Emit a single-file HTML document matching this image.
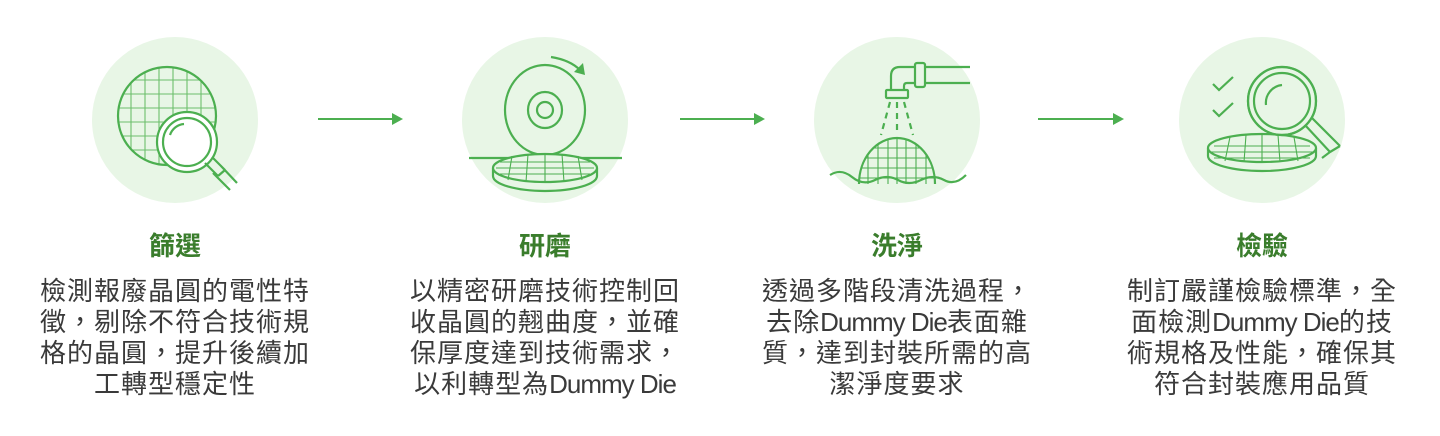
<!DOCTYPE html>
<html><head><meta charset="utf-8"><style>
body{margin:0;width:1440px;height:436px;background:#fff;overflow:hidden;position:relative;font-family:"Liberation Sans","Noto Sans CJK TC",sans-serif}
.t{position:absolute;top:226px;width:300px;text-align:center;font-size:26px;font-weight:bold;color:#3a7d2c}
.d{position:absolute;top:276px;width:320px;text-align:center;font-size:26px;line-height:31px;color:#3a3a3a;letter-spacing:1px}
.d span{letter-spacing:-1px}
svg{position:absolute;left:0;top:0}
</style></head><body>
<svg width="1440" height="220" viewBox="0 0 1440 220" fill="none" stroke="#4caf50" stroke-width="2.2">
<g stroke="none" fill="#e8f6e6">
<circle cx="175" cy="120" r="83"/><circle cx="545" cy="120" r="83"/><circle cx="897" cy="120" r="83"/><circle cx="1262" cy="120" r="83"/>
</g>
<g stroke="#4caf50" stroke-width="2">
<line x1="318" y1="119" x2="394" y2="119"/><line x1="680" y1="119" x2="756" y2="119"/><line x1="1038" y1="119" x2="1114" y2="119"/>
</g>
<g fill="#4caf50" stroke="none">
<path d="M392 113 L403 119 L392 125Z"/><path d="M754 113 L765 119 L754 125Z"/><path d="M1113 113 L1124 119 L1113 125Z"/>
</g>
<defs><clipPath id="c1"><circle cx="167" cy="116" r="49"/></clipPath></defs>
<g clip-path="url(#c1)" stroke-width="1.1" stroke="#6cbf6c">
<path d="M118 80H216M118 94H216M118 108H216M118 122H216M118 136H216M118 150H216M131 67V165M145 67V165M159 67V165M173 67V165M187 67V165M201 67V165"/>
</g>
<circle cx="167" cy="116" r="49"/>
<circle cx="187" cy="142" r="30" fill="#fff"/>
<circle cx="187" cy="142" r="24"/>
<path d="M170 135 A16 16 0 0 1 184 124"/>
<path d="M205 163 L218 176 M212 157 L225 170 M213 173 L230 190 M221 166 L237 183 M218 176 L225 170"/>
<path d="M551 57 Q570 60 580 70"/><path d="M574 72 L583 63 L585 75Z" fill="#4caf50" stroke="none"/>
<ellipse cx="545" cy="110" rx="40" ry="45"/>
<ellipse cx="545" cy="110" rx="17" ry="18"/>
<ellipse cx="545" cy="110" rx="8" ry="8"/>
<line x1="469" y1="158" x2="622" y2="158"/>
<path d="M493 168 V176 A52 15 0 0 0 597 176 V168"/>
<ellipse cx="545" cy="168" rx="52" ry="14" fill="#e8f6e6"/>
<g stroke-width="1.1"><path d="M500 162H590M496 168H594M500 174H590M512 156L508 180M528 154L526 182M545 154V182M562 154L564 182M578 156L582 180"/></g>
<path d="M970 67 H925 M970 83 H925"/>
<rect x="915" y="63" width="10" height="24" rx="2"/>
<path d="M915 67 H900 Q891 67 891 76 V90 M915 83 H907 Q904 83 904 86 V90"/>
<rect x="886" y="90" width="22" height="8" rx="1"/>
<path d="M897 102 V135" stroke-dasharray="6 5"/>
<path d="M890 102 L881 135" stroke-dasharray="6 5"/>
<path d="M904 102 L913 135" stroke-dasharray="6 5"/>
<defs><clipPath id="c3"><path d="M859 184 A38 46 0 0 1 935 184Z"/></clipPath></defs>
<g clip-path="url(#c3)" stroke-width="1.1"><path d="M850 148H945M850 158H945M850 168H945M850 178H945M868 130V190M878 130V190M888 130V190M897 130V190M906 130V190M916 130V190M926 130V190"/></g>
<path d="M859 184 A38 46 0 0 1 935 184"/>
<path d="M830 175 Q841 168 852 177 T875 180 T898 180 T921 180 T944 180 T966 175" />
<path d="M1213 84 L1219 90 L1233 77 M1213 110 L1219 116 L1233 103"/>
<path d="M1208 148 V156 A54 15 0 0 0 1316 156 V148"/>
<ellipse cx="1262" cy="148" rx="54" ry="14" fill="#e8f6e6"/>
<g stroke-width="1.1"><path d="M1214 146H1310M1210 152H1314M1214 158H1310M1230 137L1225 161M1246 135L1244 162M1262 134V162M1278 135L1280 162M1294 137L1298 161"/></g>
<circle cx="1282" cy="101" r="34" fill="#e8f6e6"/>
<circle cx="1282" cy="101" r="34"/>
<circle cx="1282" cy="101" r="28"/>
<path d="M1266 105 A18 18 0 0 1 1282 85"/>
<path d="M1305 125 L1330 152 M1312 118 L1340 146 M1322 158 L1330 152 M1330 152 L1340 146"/>
</svg>
<div class="t" style="left:25px">篩選</div>
<div class="t" style="left:395px">研磨</div>
<div class="t" style="left:747px">洗淨</div>
<div class="t" style="left:1112px">檢驗</div>
<div class="d" style="left:15px">檢測報廢晶圓的電性特<br>徵，剔除不符合技術規<br>格的晶圓，提升後續加<br>工轉型穩定性</div>
<div class="d" style="left:385px">以精密研磨技術控制回<br>收晶圓的翹曲度，並確<br>保厚度達到技術需求，<br>以利轉型為<span>Dummy Die</span></div>
<div class="d" style="left:737px">透過多階段清洗過程，<br>去除<span>Dummy Die</span>表面雜<br>質，達到封裝所需的高<br>潔淨度要求</div>
<div class="d" style="left:1102px">制訂嚴謹檢驗標準，全<br>面檢測<span>Dummy Die</span>的技<br>術規格及性能，確保其<br>符合封裝應用品質</div>
</body></html>
